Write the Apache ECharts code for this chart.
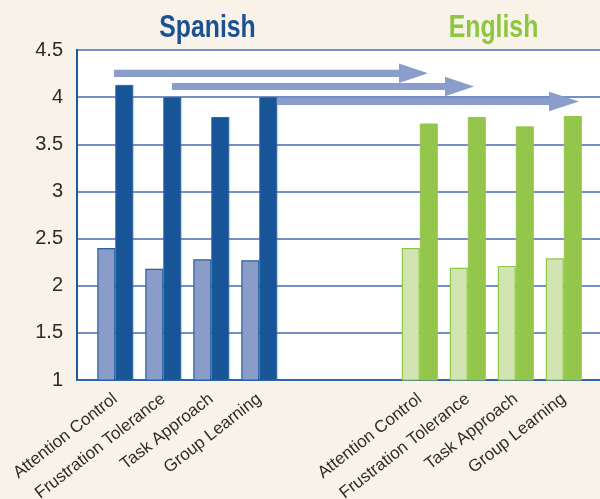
<!DOCTYPE html>
<html>
<head>
<meta charset="utf-8">
<script src="https://cdn.jsdelivr.net/npm/echarts@6/dist/echarts.min.js"></script>
<style>
html,body{margin:0;padding:0;background:#f8f2e8;}
#main{width:600px;height:499px;}
</style>
</head>
<body>
<div id="main"></div>
<script>
// ---- data ----
var categories = ['Attention Control', 'Frustration Tolerance', 'Task Approach', 'Group Learning'];
var spanishPre  = [2.40, 2.18, 2.28, 2.27];
var spanishPost = [4.13, 4.00, 3.79, 4.00];
var englishPre  = [2.40, 2.19, 2.21, 2.29];
var englishPost = [3.72, 3.79, 3.69, 3.80];
var yTicks = [1, 1.5, 2, 2.5, 3, 3.5, 4, 4.5];
var groupTitles = ['Spanish', 'English'];

var chart = echarts.init(document.getElementById('main'), null, {renderer: 'canvas'});

var TOP = 50, BOTTOM = 119;

function hiddenY(gi) {
  return {type: 'value', gridIndex: gi, min: yTicks[0], max: yTicks[yTicks.length - 1], interval: 0.5,
    show: false, splitLine: {show: false}};
}
function catX(gi) {
  return {type: 'category', gridIndex: gi, data: categories,
    axisLine: {show: false}, axisTick: {show: false}, splitLine: {show: false},
    axisLabel: {rotate: 38, margin: 17, fontSize: 17, color: '#2b2b2b', fontFamily: 'Liberation Sans, sans-serif', interval: 0}};
}

function arrow(x0, hs, tip, c) {
  var t = 3.6, h = 9.8;
  return {type: 'polygon', z: 10,
    shape: {points: [[x0, c - t], [hs, c - t], [hs, c - h], [tip, c], [hs, c + h], [hs, c + t], [x0, c + t]]},
    style: {fill: '#8b9dca'}};
}

function titleText(txt, cx, color) {
  return {type: 'text', x: cx, y: 28, z: 10, scaleX: 0.8,
    style: {text: txt, fill: color, font: 'bold 31px "Liberation Sans", Arial, sans-serif',
      textAlign: 'center', textVerticalAlign: 'middle'}};
}

var option = {
  backgroundColor: '#f8f2e8',
  animation: false,
  grid: [
    {left: 77, right: -30, top: TOP, bottom: BOTTOM, show: true, backgroundColor: '#ffffff',
     borderColor: '#1d5a9c', borderWidth: 2, containLabel: false, outerBoundsMode: 'none'},
    {left: 91.3, width: 192, top: TOP, bottom: BOTTOM, containLabel: false, outerBoundsMode: 'none'},
    {left: 395.8, width: 192, top: TOP, bottom: BOTTOM, containLabel: false, outerBoundsMode: 'none'}
  ],
  xAxis: [
    {type: 'value', gridIndex: 0, min: 0, max: 1, show: true,
     axisLine: {show: true, onZero: false, lineStyle: {color: '#2f64a6', width: 2}},
     axisTick: {show: false}, axisLabel: {show: false}, splitLine: {show: false}},
    catX(1), catX(2)
  ],
  yAxis: [
    {type: 'value', gridIndex: 0, min: yTicks[0], max: yTicks[yTicks.length - 1], interval: 0.5,
     axisLine: {show: true, lineStyle: {color: '#1d5a9c', width: 2}},
     axisTick: {show: false},
     axisLabel: {margin: 14, fontSize: 20, color: '#2b2b2b', fontFamily: 'Liberation Sans, sans-serif',
       formatter: function (v) { return String(Math.round(v * 10) / 10); }},
     splitLine: {show: true, lineStyle: {color: '#7390c4', width: 2}}},
    hiddenY(1), hiddenY(2)
  ],
  series: [
    {type: 'bar', xAxisIndex: 1, yAxisIndex: 1, data: spanishPre, barWidth: 18, barGap: '0%',
     itemStyle: {color: '#8a9dc8', borderColor: '#2460a3', borderWidth: 1.2}},
    {type: 'bar', xAxisIndex: 1, yAxisIndex: 1, data: spanishPost, barWidth: 18, barGap: '0%',
     itemStyle: {color: '#175596', borderColor: '#2a66aa', borderWidth: 1}},
    {type: 'bar', xAxisIndex: 2, yAxisIndex: 2, data: englishPre, barWidth: 18, barGap: '0%',
     itemStyle: {color: '#d2e4b1', borderColor: '#8ec64a', borderWidth: 1.2}},
    {type: 'bar', xAxisIndex: 2, yAxisIndex: 2, data: englishPost, barWidth: 18, barGap: '0%',
     itemStyle: {color: '#93c64b', borderColor: '#93c64b', borderWidth: 1}}
  ],
  graphic: [
    titleText(groupTitles[0], 207.5, '#1a5192'),
    titleText(groupTitles[1], 493.5, '#8dc63f'),
    arrow(114, 399, 428, 73.3),
    arrow(172, 445, 474, 86.5),
    arrow(277, 549, 579, 101.5)
  ]
};
chart.setOption(option);
</script>
</body>
</html>
